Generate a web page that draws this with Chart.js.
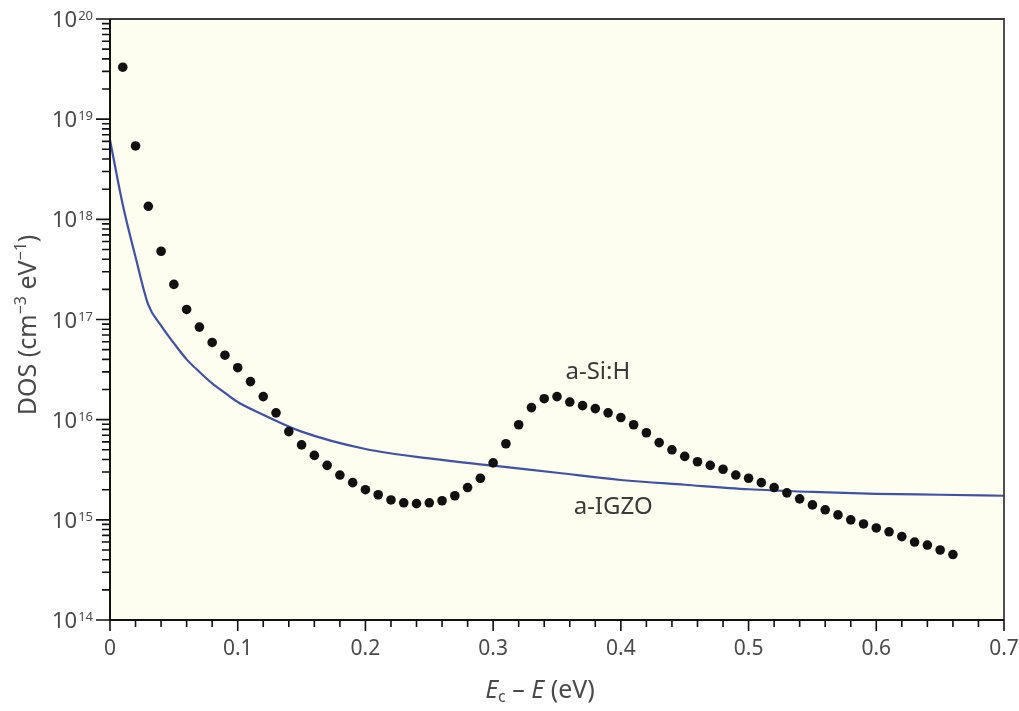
<!DOCTYPE html>
<html>
<head>
<meta charset="utf-8">
<script src="https://cdn.jsdelivr.net/npm/chart.js@4"></script>
<style>
  body { margin: 0; background: #ffffff; }
  canvas { display: block; }
</style>
</head>
<body>
<canvas id="dos-chart" width="1019" height="711"></canvas>
<script>
// DATA: a-Si:H (dots)
// ---------------------------------------------------
const siEnergy = [
    0.01, 0.02, 0.03, 0.04, 0.05, 0.06, 0.07, 0.08, 0.09, 0.10,
    0.11, 0.12, 0.13, 0.14, 0.15, 0.16, 0.17, 0.18, 0.19, 0.20,
    0.21, 0.22, 0.23, 0.24, 0.25, 0.26, 0.27, 0.28, 0.29, 0.30,
    0.31, 0.32, 0.33, 0.34, 0.35, 0.36, 0.37, 0.38, 0.39, 0.40,
    0.41, 0.42, 0.43, 0.44, 0.45, 0.46, 0.47, 0.48, 0.49, 0.50,
    0.51, 0.52, 0.53, 0.54, 0.55, 0.56, 0.57, 0.58, 0.59, 0.60,
    0.61, 0.62, 0.63, 0.64, 0.65, 0.66
];
const siDos = [
    3.3e19, 5.4e18, 1.35e18, 4.8e17, 2.24e17, 1.26e17, 8.4e16, 5.9e16, 4.4e16, 3.3e16,
    2.4e16, 1.7e16, 1.17e16, 7.6e15, 5.6e15, 4.4e15, 3.5e15, 2.8e15, 2.35e15, 2.0e15,
    1.78e15, 1.58e15, 1.48e15, 1.45e15, 1.48e15, 1.55e15, 1.74e15, 2.1e15, 2.6e15, 3.7e15,
    5.75e15, 8.9e15, 1.32e16, 1.62e16, 1.7e16, 1.5e16, 1.38e16, 1.29e16, 1.17e16, 1.05e16,
    8.9e15, 7.4e15, 5.9e15, 5.0e15, 4.3e15, 3.8e15, 3.5e15, 3.2e15, 2.8e15, 2.6e15,
    2.35e15, 2.1e15, 1.86e15, 1.62e15, 1.41e15, 1.26e15, 1.12e15, 1.0e15, 9.1e14, 8.3e14,
    7.6e14, 6.8e14, 6.0e14, 5.6e14, 5.0e14, 4.5e14
];
// DATA: a-IGZO (line)
// ---------------------------------------------------
const igzoEnergy = [
    0, 0.01, 0.02, 0.03, 0.04, 0.05, 0.06, 0.07, 0.08, 0.09, 0.10, 0.12, 0.15,
    0.20, 0.25, 0.30, 0.35, 0.40, 0.45, 0.50, 0.55, 0.60, 0.65, 0.70
];
const igzoDos = [
    6.2e18, 1.4e18, 4.2e17, 1.4e17, 8.7e16, 5.8e16, 4.0e16, 3.0e16, 2.3e16, 1.85e16, 1.5e16, 1.12e16, 7.6e15,
    5.1e15, 4.1e15, 3.47e15, 2.95e15, 2.5e15, 2.24e15, 2.02e15, 1.9e15, 1.82e15, 1.78e15, 1.74e15
];
// AXES / TICKS
// ---------------------------------------------------
const xMajorTicks = [ 0, 0.1, 0.2, 0.3, 0.4, 0.5, 0.6, 0.7 ];
const xTickLabels = [ '0', '0.1', '0.2', '0.3', '0.4', '0.5', '0.6', '0.7' ];
const xMinorTicks = [
    0.02, 0.04, 0.06, 0.08, 0.12, 0.14, 0.16, 0.18, 0.22, 0.24, 0.26, 0.28,
    0.32, 0.34, 0.36, 0.38, 0.42, 0.44, 0.46, 0.48, 0.52, 0.54, 0.56, 0.58,
    0.62, 0.64, 0.66, 0.68
];
const yExponents = [ 14, 15, 16, 17, 18, 19, 20 ];
const yMinorFactors = [ 2, 3, 4, 5, 6, 7, 8, 9 ];
// CURVE LABELS
// ---------------------------------------------------
const curveLabels = [
    { text: 'a-Si:H', x: 0.382, y: 3.0e16 },
    { text: 'a-IGZO', x: 0.394, y: 1.35e15 }
];

const FONT = '"Noto Sans", sans-serif';
const TEXT_COLOR = '#4a4a4a';

// PLUGIN: background, frame, ticks, labels
// ---------------------------------------------------
const framePlugin = {
    id: 'frame',
    beforeDatasetsDraw( chart ) {
        const { ctx, chartArea: a } = chart;
        ctx.save();
        ctx.fillStyle = '#fdfdf0';
        ctx.fillRect( a.left, a.top, a.right - a.left, a.bottom - a.top );
        ctx.restore();
    },
    afterDatasetsDraw( chart ) {
        const { ctx, chartArea: a } = chart;
        const xs = chart.scales.x;
        const ys = chart.scales.y;
        ctx.save();

        // frame
        ctx.strokeStyle = '#3c3c3c';
        ctx.lineWidth = 1.8;
        ctx.beginPath();
        ctx.moveTo( a.left, a.top );
        ctx.lineTo( a.right, a.top );
        ctx.lineTo( a.right, a.bottom );
        ctx.stroke();
        ctx.strokeStyle = '#111';
        ctx.lineWidth = 2;
        ctx.beginPath();
        ctx.moveTo( a.left, a.top );
        ctx.lineTo( a.left, a.bottom );
        ctx.lineTo( a.right, a.bottom );
        ctx.stroke();

        // x ticks
        ctx.lineWidth = 1.6;
        ctx.beginPath();
        xMajorTicks.forEach( v => {
            const px = xs.getPixelForValue( v );
            ctx.moveTo( px, a.bottom );
            ctx.lineTo( px, a.bottom + 11 );
        });
        xMinorTicks.forEach( v => {
            const px = xs.getPixelForValue( v );
            ctx.moveTo( px, a.bottom );
            ctx.lineTo( px, a.bottom + 7 );
        });
        // y ticks
        yExponents.forEach( e => {
            const py = ys.getPixelForValue( Math.pow( 10, e ) );
            ctx.moveTo( a.left, py );
            ctx.lineTo( a.left - 14, py );
            if ( e < 20 ) {
                yMinorFactors.forEach( f => {
                    const pm = ys.getPixelForValue( f * Math.pow( 10, e ) );
                    ctx.moveTo( a.left, pm );
                    ctx.lineTo( a.left - 8, pm );
                });
            }
        });
        ctx.stroke();

        // x tick labels
        ctx.fillStyle = TEXT_COLOR;
        ctx.font = '21px ' + FONT;
        ctx.textAlign = 'center';
        ctx.textBaseline = 'middle';
        xMajorTicks.forEach( ( v, i ) => {
            ctx.fillText( xTickLabels[ i ], xs.getPixelForValue( v ), a.bottom + 29 );
        });

        // y tick labels: 10 with superscript exponent
        yExponents.forEach( e => {
            const py = ys.getPixelForValue( Math.pow( 10, e ) );
            ctx.font = '13px ' + FONT;
            ctx.textAlign = 'right';
            ctx.textBaseline = 'alphabetic';
            ctx.fillText( String( e ), a.left - 17, py + 1 );
            const ew = ctx.measureText( String( e ) ).width;
            ctx.font = '22px ' + FONT;
            ctx.fillText( '10', a.left - 18 - ew, py + 8 );
        });

        // x title: E_c – E (eV)
        const tx = 540;
        const ty = 698;
        const parts = [
            { t: 'E', f: 'italic 25px ' + FONT, dy: 0 },
            { t: 'c', f: '16px ' + FONT, dy: 4 },
            { t: ' \u2013 ', f: '25px ' + FONT, dy: 0 },
            { t: 'E', f: 'italic 25px ' + FONT, dy: 0 },
            { t: ' (eV)', f: '25px ' + FONT, dy: 0 }
        ];
        let total = 0;
        parts.forEach( p => { ctx.font = p.f; p.w = ctx.measureText( p.t ).width; total += p.w; });
        let cx = tx - total / 2;
        ctx.textAlign = 'left';
        ctx.textBaseline = 'alphabetic';
        parts.forEach( p => {
            ctx.font = p.f;
            ctx.fillText( p.t, cx, ty + p.dy );
            cx += p.w;
        });

        // y title: DOS (cm^-3 eV^-1)
        ctx.translate( 36, 325 );
        ctx.rotate( -Math.PI / 2 );
        const yparts = [
            { t: 'DOS (cm', f: '25px ' + FONT, dy: 0 },
            { t: '\u22123', f: '16px ' + FONT, dy: -10 },
            { t: ' eV', f: '25px ' + FONT, dy: 0 },
            { t: '\u22121', f: '16px ' + FONT, dy: -10 },
            { t: ')', f: '25px ' + FONT, dy: 0 }
        ];
        total = 0;
        yparts.forEach( p => { ctx.font = p.f; p.w = ctx.measureText( p.t ).width; total += p.w; });
        cx = -total / 2;
        yparts.forEach( p => {
            ctx.font = p.f;
            ctx.fillText( p.t, cx, 0 + p.dy );
            cx += p.w;
        });
        ctx.setTransform( 1, 0, 0, 1, 0, 0 );

        // curve labels
        ctx.fillStyle = '#3a3a3a';
        ctx.font = '24px ' + FONT;
        ctx.textAlign = 'center';
        ctx.textBaseline = 'middle';
        curveLabels.forEach( l => {
            ctx.fillText( l.text, xs.getPixelForValue( l.x ), ys.getPixelForValue( l.y ) );
        });
        ctx.restore();
    }
};

window.addEventListener( 'load', function () {
    const igzoPoints = igzoEnergy.map( ( x, i ) => ({ x: x, y: igzoDos[ i ] }) );
    const siPoints = siEnergy.map( ( x, i ) => ({ x: x, y: siDos[ i ] }) );

    new Chart( document.querySelector( '#dos-chart' ), {
        type: 'scatter',
        data: {
            datasets: [
                {
                    label: 'a-IGZO',
                    data: igzoPoints,
                    showLine: true,
                    borderColor: '#3f51a8',
                    borderWidth: 2.2,
                    pointRadius: 0,
                    cubicInterpolationMode: 'monotone',
                    order: 2
                },
                {
                    label: 'a-Si:H',
                    data: siPoints,
                    showLine: false,
                    pointRadius: 4.8,
                    pointBackgroundColor: '#111111',
                    pointBorderWidth: 0,
                    order: 1
                }
            ]
        },
        options: {
            responsive: false,
            devicePixelRatio: 1,
            animation: false,
            layout: { padding: { top: 19, right: 15, left: 0, bottom: 0 } },
            plugins: {
                legend: { display: false },
                tooltip: { enabled: false }
            },
            scales: {
                x: {
                    type: 'linear',
                    min: 0,
                    max: 0.7,
                    grid: { display: false },
                    border: { display: false },
                    ticks: { display: false },
                    afterFit: s => { s.height = 91; }
                },
                y: {
                    type: 'logarithmic',
                    min: 1e14,
                    max: 1e20,
                    grid: { display: false },
                    border: { display: false },
                    ticks: { display: false },
                    afterFit: s => { s.width = 110; }
                }
            }
        },
        plugins: [ framePlugin ]
    });
}, false );
</script>
</body>
</html>
